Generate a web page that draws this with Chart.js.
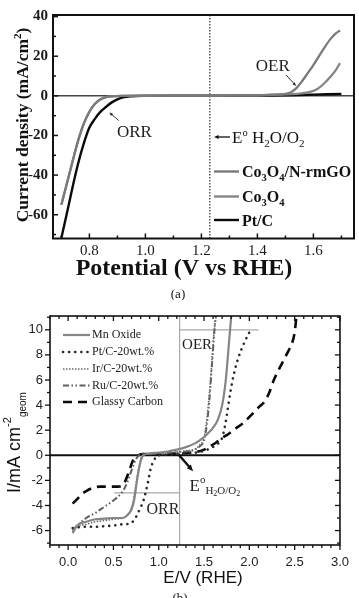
<!DOCTYPE html>
<html>
<head>
<meta charset="utf-8">
<script src="https://cdn.jsdelivr.net/npm/chart.js@4.4.0/dist/chart.umd.min.js"></script>
<style>
  html, body { margin: 0; padding: 0; background: #fff; }
  #wrapA { position: absolute; left: 0; top: 0; width: 359px; height: 300px; }
  #wrapB { position: absolute; left: 0; top: 300px; width: 359px; height: 298px; }
</style>
</head>
<body>
<div id="wrapA"><canvas id="chartA" width="359" height="300"></canvas></div>
<div id="wrapB"><canvas id="chartB" width="359" height="298"></canvas></div>
<script>
// ---- panel (a): current density vs potential ----
var rmgoX = [0.70, 0.72, 0.74, 0.76, 0.78, 0.80, 0.82, 0.84, 0.86, 0.88, 0.92, 1.00, 1.10, 1.20, 1.30, 1.40, 1.45, 1.50, 1.52, 1.54, 1.56, 1.58, 1.60, 1.62, 1.64, 1.66, 1.68, 1.695];
var rmgoY = [-55, -44, -33, -22.5, -14, -8, -4, -1.7, -0.6, -0.2, 0, 0.05, 0.1, 0.15, 0.2, 0.3, 0.6, 1.0, 1.8, 4.0, 7.5, 11.5, 15.5, 20, 24.5, 28.5, 31.5, 33];
var co3o4X = [0.70, 0.72, 0.74, 0.76, 0.78, 0.80, 0.82, 0.84, 0.86, 0.88, 0.92, 1.00, 1.10, 1.20, 1.30, 1.40, 1.50, 1.55, 1.58, 1.60, 1.62, 1.64, 1.66, 1.68, 1.695];
var co3o4Y = [-55, -44, -33, -22.5, -14, -8, -4, -1.7, -0.6, -0.2, 0, 0.05, 0.1, 0.15, 0.2, 0.3, 0.7, 1.1, 1.7, 2.5, 4.0, 6.5, 9.5, 13, 16.5];
var ptcX = [0.70, 0.72, 0.74, 0.76, 0.78, 0.80, 0.82, 0.84, 0.86, 0.88, 0.90, 0.92, 0.95, 0.99, 1.10, 1.20, 1.30, 1.40, 1.50, 1.55, 1.60, 1.65, 1.70];
var ptcY = [-71.6, -59, -46, -34, -24, -16, -11.5, -8, -5.5, -3.3, -1.8, -0.8, -0.25, 0, 0.05, 0.1, 0.1, 0.15, 0.25, 0.4, 0.6, 0.8, 1.0];
var xTicksA = [0.8, 1.0, 1.2, 1.4, 1.6];
var xMinorA = [0.7, 0.9, 1.1, 1.3, 1.5, 1.7];
var yTicksA = [-60, -40, -20, 0, 20, 40];
var yMinorA = [-70, -50, -30, -10, 10, 30];
var eStd = 1.23;

// ---- panel (b): I vs E ----
var mnX = [0.05, 0.10, 0.20, 0.30, 0.40, 0.50, 0.60, 0.65, 0.70, 0.73, 0.76, 0.79, 0.83, 0.90, 1.00, 1.10, 1.20, 1.30, 1.40, 1.50, 1.55, 1.60, 1.65, 1.70, 1.74, 1.77, 1.80];
var mnY = [-6.2, -5.6, -5.3, -5.1, -5.05, -5.0, -5.0, -4.8, -4.3, -3.5, -2.0, -0.8, 0.0, 0.15, 0.22, 0.3, 0.45, 0.65, 0.95, 1.45, 1.8, 2.2, 2.8, 4.0, 6.0, 8.5, 11.1];
var ptX = [0.05, 0.10, 0.20, 0.30, 0.40, 0.50, 0.60, 0.68, 0.73, 0.77, 0.81, 0.84, 0.86, 0.88, 0.91, 0.95, 1.00, 1.10, 1.20, 1.30, 1.40, 1.50, 1.58, 1.65, 1.70, 1.73, 1.76, 1.79, 1.83, 1.88, 1.94, 2.02];
var ptY = [-5.8, -5.75, -5.7, -5.7, -5.65, -5.6, -5.5, -5.45, -5.15, -4.6, -4.0, -3.4, -2.8, -2.2, -1.1, -0.35, 0.0, 0.05, 0.1, 0.15, 0.2, 0.35, 0.6, 0.9, 1.4, 2.3, 3.6, 5.0, 6.5, 7.8, 8.9, 10.1];
var irX = [0.05, 0.10, 0.20, 0.30, 0.40, 0.50, 0.60, 0.65, 0.70, 0.73, 0.76, 0.79, 0.82, 0.90, 1.00, 1.10, 1.20, 1.30, 1.40, 1.45, 1.50, 1.53, 1.56, 1.59, 1.61, 1.635];
var irY = [-6.1, -5.7, -5.5, -5.3, -5.2, -5.1, -5.0, -4.8, -4.2, -3.2, -1.8, -0.6, 0.0, 0.1, 0.15, 0.2, 0.25, 0.35, 0.5, 0.8, 1.4, 2.8, 5.0, 7.8, 9.8, 11.2];
var ruX = [0.05, 0.10, 0.20, 0.30, 0.40, 0.50, 0.60, 0.65, 0.70, 0.75, 0.80, 0.90, 1.00, 1.10, 1.20, 1.30, 1.40, 1.45, 1.50, 1.53, 1.56, 1.59, 1.615, 1.63];
var ruY = [-6.0, -5.6, -5.0, -4.6, -4.1, -3.6, -2.9, -2.2, -1.2, -0.3, 0.1, 0.15, 0.15, 0.2, 0.25, 0.3, 0.45, 0.7, 1.2, 2.4, 4.5, 7.5, 10.0, 11.2];
var gcX = [0.05, 0.10, 0.15, 0.20, 0.27, 0.35, 0.45, 0.55, 0.60, 0.64, 0.68, 0.72, 0.77, 0.85, 1.00, 1.20, 1.34, 1.41, 1.50, 1.56, 1.63, 1.70, 1.77, 1.84, 1.92, 2.02, 2.10, 2.17, 2.22, 2.27, 2.33, 2.38, 2.43, 2.47, 2.50, 2.52];
var gcY = [-3.85, -3.5, -3.1, -2.85, -2.6, -2.5, -2.5, -2.5, -2.4, -1.9, -1.1, -0.35, 0.0, 0.1, 0.1, 0.15, 0.2, 0.25, 0.45, 0.7, 1.0, 1.4, 1.7, 2.1, 2.5, 3.2, 3.8, 4.3, 5.0, 6.0, 6.9, 7.6, 8.3, 8.9, 9.8, 11.1];
var xTicksB = [0.0, 0.5, 1.0, 1.5, 2.0, 2.5, 3.0];
var yTicksB = [-6, -4, -2, 0, 2, 4, 6, 8, 10];

var SERIF = '"Liberation Serif", "Times New Roman", serif';
var SANS = '"Liberation Sans", Arial, sans-serif';

function pts(xs, ys) {
  return xs.map(function (v, i) { return { x: v, y: ys[i] }; });
}
function range(a, b, step) {
  var out = [];
  for (var v = a; v <= b + 1e-9; v += step) out.push(Math.round(v * 100) / 100);
  return out;
}
function line(ctx, x1, y1, x2, y2) {
  ctx.beginPath(); ctx.moveTo(x1, y1); ctx.lineTo(x2, y2); ctx.stroke();
}
function arrow(ctx, x1, y1, x2, y2, head, width) {
  var ang = Math.atan2(y2 - y1, x2 - x1);
  ctx.lineWidth = width;
  line(ctx, x1, y1, x2 - Math.cos(ang) * head * 0.7, y2 - Math.sin(ang) * head * 0.7);
  ctx.beginPath();
  ctx.moveTo(x2, y2);
  ctx.lineTo(x2 - head * Math.cos(ang - 0.4), y2 - head * Math.sin(ang - 0.4));
  ctx.lineTo(x2 - head * Math.cos(ang + 0.4), y2 - head * Math.sin(ang + 0.4));
  ctx.closePath(); ctx.fill();
}
// parts: [text, font, dy]
function rich(ctx, parts, x, y, align) {
  var w = 0;
  parts.forEach(function (p) { ctx.font = p[1]; w += ctx.measureText(p[0]).width; });
  var cx = align === 'center' ? x - w / 2 : (align === 'right' ? x - w : x);
  ctx.textAlign = 'left';
  ctx.textBaseline = 'alphabetic';
  parts.forEach(function (p) {
    ctx.font = p[1];
    ctx.fillText(p[0], cx, y + (p[2] || 0));
    cx += ctx.measureText(p[0]).width;
  });
}

// ---------------- chart (a) ----------------
var decorA = {
  id: 'decorA',
  beforeDatasetsDraw: function (chart) {
    var ctx = chart.ctx, a = chart.chartArea, x = chart.scales.x, y = chart.scales.y;
    ctx.save();
    ctx.strokeStyle = '#444'; ctx.lineWidth = 1.5;
    line(ctx, a.left, y.getPixelForValue(0), a.right, y.getPixelForValue(0));
    ctx.setLineDash([1.5, 1.5]); ctx.strokeStyle = '#333'; ctx.lineWidth = 1.2;
    var ex = x.getPixelForValue(eStd);
    line(ctx, ex, a.top, ex, a.bottom);
    ctx.restore();
  },
  afterDraw: function (chart) {
    var ctx = chart.ctx, a = chart.chartArea, x = chart.scales.x, y = chart.scales.y;
    ctx.save();
    ctx.strokeStyle = '#111'; ctx.fillStyle = '#111';
    // inside ticks
    ctx.lineWidth = 1.5;
    xTicksA.forEach(function (v) { var p = x.getPixelForValue(v); line(ctx, p, a.bottom, p, a.bottom - 5); });
    xMinorA.forEach(function (v) { var p = x.getPixelForValue(v); line(ctx, p, a.bottom, p, a.bottom - 3); });
    yTicksA.forEach(function (v) { var p = y.getPixelForValue(v); line(ctx, a.left, p, a.left + 5, p); });
    yMinorA.forEach(function (v) { var p = y.getPixelForValue(v); line(ctx, a.left, p, a.left + 3, p); });
    // frame
    ctx.lineWidth = 2;
    ctx.strokeRect(a.left, a.top, a.right - a.left, a.bottom - a.top);

    // annotations
    ctx.fillStyle = '#222'; ctx.strokeStyle = '#222';
    ctx.font = '17px ' + SERIF; ctx.textAlign = 'center'; ctx.textBaseline = 'middle';
    ctx.fillText('OER', x.getPixelForValue(1.455), y.getPixelForValue(14.6));
    ctx.fillText('ORR', x.getPixelForValue(0.961), y.getPixelForValue(-18.7));
    arrow(ctx, x.getPixelForValue(1.502), y.getPixelForValue(10.6), x.getPixelForValue(1.538), y.getPixelForValue(5.0), 4, 0.9);
    arrow(ctx, x.getPixelForValue(0.905), y.getPixelForValue(-12.5), x.getPixelForValue(0.871), y.getPixelForValue(-8.4), 4, 0.9);

    // legend
    var bF = 'bold 16px ' + SERIF, sF = 'bold 10.5px ' + SERIF;
    ctx.fillStyle = '#111'; ctx.strokeStyle = '#111';
    arrow(ctx, 230, 137, 214, 137, 5, 1.3);
    rich(ctx, [['E', '17px ' + SERIF, 0], ['o', '10.5px ' + SERIF, -7], [' H', '17px ' + SERIF, 0], ['2', '11px ' + SERIF, 4], ['O/O', '17px ' + SERIF, 0], ['2', '11px ' + SERIF, 4]], 232, 143, 'left');
    var rows = [
      { y: 171.5, ds: 0, parts: [['Co', bF, 0], ['3', sF, 4], ['O', bF, 0], ['4', sF, 4], ['/N-rmGO', bF, 0]] },
      { y: 196.5, ds: 1, parts: [['Co', bF, 0], ['3', sF, 4], ['O', bF, 0], ['4', sF, 4]] },
      { y: 220, ds: 2, parts: [['Pt/C', bF, 0]] }
    ];
    rows.forEach(function (r) {
      var d = chart.data.datasets[r.ds];
      ctx.strokeStyle = d.borderColor; ctx.lineWidth = 2.4;
      line(ctx, 214, r.y, 239, r.y);
      ctx.fillStyle = '#111';
      rich(ctx, r.parts, 242, r.y + 5.5, 'left');
    });

    // axis titles
    ctx.fillStyle = '#111';
    rich(ctx, [['Potential (V vs RHE)', 'bold 24px ' + SERIF, 0]], 184, 275, 'center');
    ctx.save();
    ctx.translate(28, 125); ctx.rotate(-Math.PI / 2);
    rich(ctx, [['Current density (mA/cm', 'bold 17.5px ' + SERIF, 0], ['2', 'bold 11px ' + SERIF, -7], [')', 'bold 17.5px ' + SERIF, 0]], 0, 0, 'center');
    ctx.restore();
    ctx.font = '13px ' + SERIF; ctx.textAlign = 'center'; ctx.textBaseline = 'middle';
    ctx.fillText('(a)', 178, 295);
    ctx.restore();
  }
};

new Chart(document.getElementById('chartA'), {
  type: 'scatter',
  data: {
    datasets: [
      { label: 'Co3O4/N-rmGO', data: pts(rmgoX, rmgoY), borderColor: '#7a7a7a', borderWidth: 2.3, showLine: true },
      { label: 'Co3O4', data: pts(co3o4X, co3o4Y), borderColor: '#858585', borderWidth: 2.3, showLine: true },
      { label: 'Pt/C', data: pts(ptcX, ptcY), borderColor: '#0a0a0a', borderWidth: 2.4, showLine: true }
    ]
  },
  options: {
    responsive: false, animation: false, devicePixelRatio: 1,
    elements: { point: { radius: 0 }, line: { cubicInterpolationMode: 'monotone', fill: false } },
    layout: { padding: { left: 0, right: 5, top: 15, bottom: 0 } },
    plugins: { legend: { display: false }, tooltip: { enabled: false } },
    scales: {
      x: {
        type: 'linear', min: 0.67, max: 1.745,
        afterFit: function (s) { s.height = 61.5; },
        afterBuildTicks: function (s) { s.ticks = xTicksA.map(function (v) { return { value: v }; }); },
        grid: { display: false, drawTicks: false }, border: { display: false },
        ticks: { padding: 4, autoSkip: false, maxRotation: 0, color: '#1a1a1a', font: { family: SERIF, size: 15 },
          callback: function (v) { return Number(v).toFixed(1); } }
      },
      y: {
        type: 'linear', min: -72, max: 40.8,
        afterFit: function (s) { s.width = 53; },
        afterBuildTicks: function (s) { s.ticks = yTicksA.map(function (v) { return { value: v }; }); },
        grid: { display: false, drawTicks: false }, border: { display: false },
        ticks: { padding: 5, autoSkip: false, color: '#1a1a1a', font: { family: SERIF, size: 15, weight: 'bold' },
          callback: function (v) { return String(v); } }
      }
    }
  },
  plugins: [decorA]
});

// ---------------- chart (b) ----------------
var decorB = {
  id: 'decorB',
  beforeDatasetsDraw: function (chart) {
    var ctx = chart.ctx, a = chart.chartArea, x = chart.scales.x, y = chart.scales.y;
    ctx.save();
    ctx.strokeStyle = '#a8a8a8'; ctx.lineWidth = 1.2;
    var ex = x.getPixelForValue(eStd);
    line(ctx, ex, a.top, ex, a.bottom);
    line(ctx, ex, y.getPixelForValue(10), x.getPixelForValue(2.1), y.getPixelForValue(10));
    line(ctx, x.getPixelForValue(0.51), y.getPixelForValue(-3), ex, y.getPixelForValue(-3));
    ctx.strokeStyle = '#111'; ctx.lineWidth = 2;
    line(ctx, a.left, y.getPixelForValue(0), a.right, y.getPixelForValue(0));
    ctx.restore();
  },
  afterDraw: function (chart) {
    var ctx = chart.ctx, a = chart.chartArea, x = chart.scales.x, y = chart.scales.y;
    ctx.save();
    ctx.strokeStyle = '#111'; ctx.fillStyle = '#111'; ctx.lineWidth = 1.3;
    range(-0.2, 3.0, 0.1).forEach(function (v) {
      var major = xTicksB.some(function (t) { return Math.abs(t - v) < 1e-6; });
      var p = x.getPixelForValue(v), l = major ? 5 : 3;
      line(ctx, p, a.bottom, p, a.bottom + l);
      line(ctx, p, a.top, p, a.top + l);
    });
    range(-7, 11, 1).forEach(function (v) {
      var major = yTicksB.indexOf(v) >= 0;
      var p = y.getPixelForValue(v), l = major ? 5 : 3;
      line(ctx, a.left, p, a.left - l, p);
      line(ctx, a.right, p, a.right - l, p);
    });
    ctx.lineWidth = 1.6;
    ctx.strokeRect(a.left, a.top, a.right - a.left, a.bottom - a.top);

    // annotations
    ctx.fillStyle = '#222';
    ctx.font = '15px ' + SERIF; ctx.textAlign = 'center'; ctx.textBaseline = 'middle';
    ctx.fillText('OER', x.getPixelForValue(1.423), y.getPixelForValue(8.8));
    ctx.font = '16px ' + SERIF;
    ctx.fillText('ORR', x.getPixelForValue(1.047), y.getPixelForValue(-4.32));
    rich(ctx, [['E', '17px ' + SERIF, 0], ['o', '11px ' + SERIF, -8], ['H', '11px ' + SERIF, 3], ['2', '8px ' + SERIF, 5],
               ['O/O', '11px ' + SERIF, 3], ['2', '8px ' + SERIF, 5]], x.getPixelForValue(1.34), y.getPixelForValue(-2.87), 'left');
    ctx.fillStyle = '#111';
    arrow(ctx, x.getPixelForValue(1.218), y.getPixelForValue(0.06), x.getPixelForValue(1.379), y.getPixelForValue(-1.27), 7, 2.4);

    // legend
    var rowsY = [35, 52, 69, 85.5, 102];
    chart.data.datasets.forEach(function (d, i) {
      ctx.save();
      ctx.strokeStyle = d.borderColor; ctx.lineWidth = d.borderWidth;
      ctx.lineCap = d.borderCapStyle || 'butt';
      ctx.setLineDash(d.borderDash || []);
      line(ctx, 63, rowsY[i], 90, rowsY[i]);
      ctx.restore();
      ctx.fillStyle = '#222'; ctx.font = '12px ' + SERIF; ctx.textAlign = 'left'; ctx.textBaseline = 'middle';
      ctx.fillText(d.label, 92, rowsY[i]);
    });

    // axis titles
    ctx.fillStyle = '#111';
    rich(ctx, [['E/V (RHE)', '17px ' + SANS, 0]], 203, 283, 'center');
    ctx.save();
    ctx.translate(19.5, 142.5); ctx.rotate(-Math.PI / 2);
    rich(ctx, [['I/mA cm', '18px ' + SANS, 0], ['-2', '11px ' + SANS, -9], ['geom', '10px ' + SANS, 6]], 0, 0, 'center');
    ctx.restore();
    ctx.font = '13px ' + SERIF; ctx.textAlign = 'center'; ctx.textBaseline = 'top';
    ctx.fillText('(b)', 180, 292);
    ctx.restore();
  }
};

new Chart(document.getElementById('chartB'), {
  type: 'scatter',
  data: {
    datasets: [
      { label: 'Mn Oxide', data: pts(mnX, mnY), borderColor: '#858585', borderWidth: 2.2, showLine: true },
      { label: 'Pt/C-20wt.%', data: pts(ptX, ptY), borderColor: '#2a2a2a', borderWidth: 2.6, borderDash: [0.1, 6], borderCapStyle: 'round', showLine: true },
      { label: 'Ir/C-20wt.%', data: pts(irX, irY), borderColor: '#6a6a6a', borderWidth: 1.6, borderDash: [1.5, 1.5], showLine: true },
      { label: 'Ru/C-20wt.%', data: pts(ruX, ruY), borderColor: '#5e5e5e', borderWidth: 2, borderDash: [6, 2.5, 1.5, 2.5, 1.5, 2.5], showLine: true },
      { label: 'Glassy Carbon', data: pts(gcX, gcY), borderColor: '#0a0a0a', borderWidth: 2.6, borderDash: [9, 6], showLine: true }
    ]
  },
  options: {
    responsive: false, animation: false, devicePixelRatio: 1,
    elements: { point: { radius: 0 }, line: { cubicInterpolationMode: 'monotone', fill: false } },
    layout: { padding: { left: 0, right: 11, top: 16, bottom: 0 } },
    plugins: { legend: { display: false }, tooltip: { enabled: false } },
    scales: {
      x: {
        type: 'linear', min: -0.2, max: 3.0,
        afterFit: function (s) { s.height = 53; },
        afterBuildTicks: function (s) { s.ticks = xTicksB.map(function (v) { return { value: v }; }); },
        grid: { display: false, drawTicks: false }, border: { display: false },
        ticks: { padding: 10, autoSkip: false, maxRotation: 0, color: '#222', font: { family: SANS, size: 13 },
          callback: function (v) { return Number(v).toFixed(1); } }
      },
      y: {
        type: 'linear', min: -7.15, max: 11.1,
        afterFit: function (s) { s.width = 50; },
        afterBuildTicks: function (s) { s.ticks = yTicksB.map(function (v) { return { value: v }; }); },
        grid: { display: false, drawTicks: false }, border: { display: false },
        ticks: { padding: 7, autoSkip: false, color: '#222', font: { family: SANS, size: 13 },
          callback: function (v) { return String(v); } }
      }
    }
  },
  plugins: [decorB]
});
</script>
</body>
</html>
